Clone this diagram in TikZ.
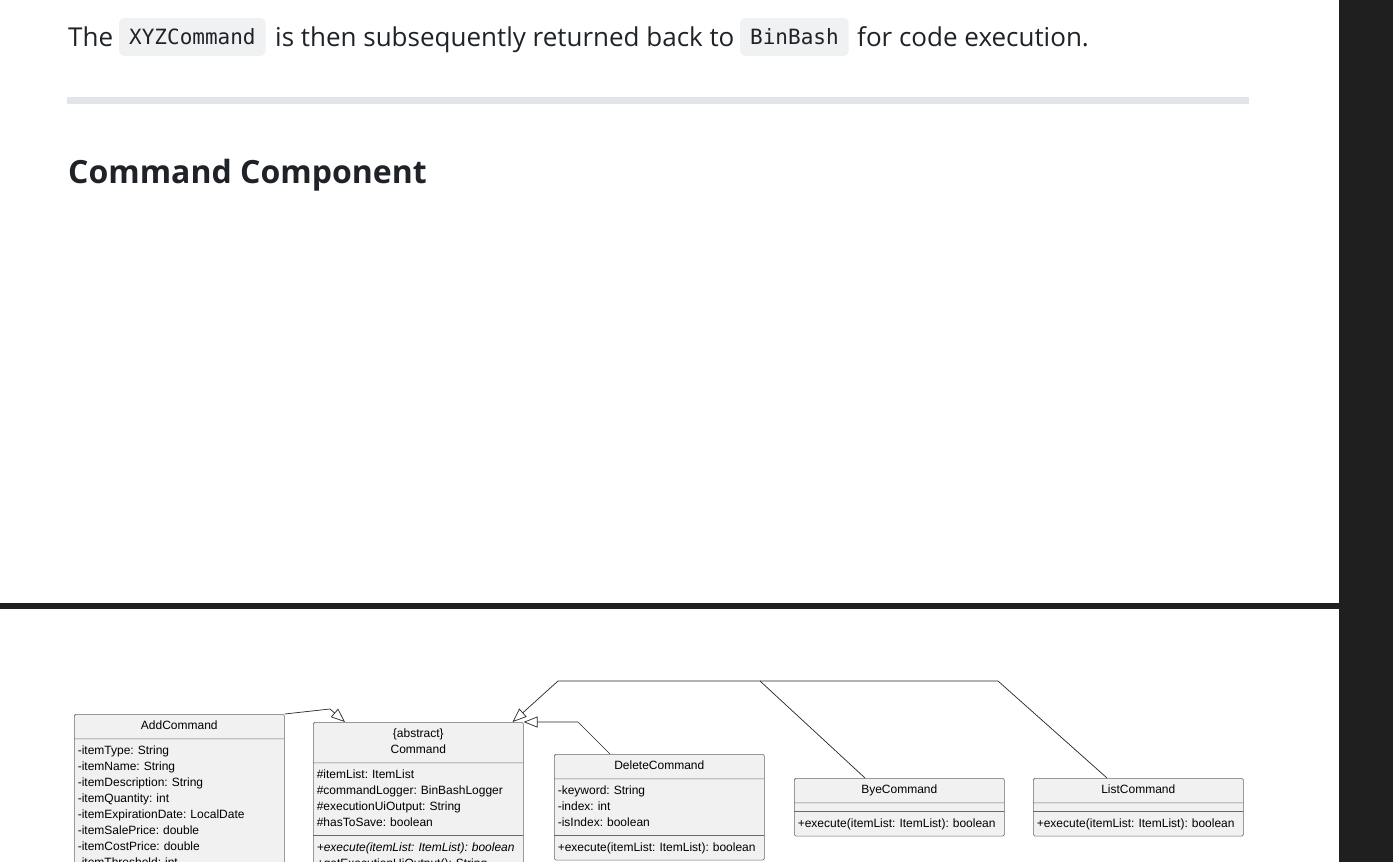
\documentclass[tikz,border=0pt]{standalone}
\usepackage{fontspec}
\setmainfont{Open Sans}
\setsansfont{Liberation Sans}
\setmonofont{DejaVu Sans Mono}
\usetikzlibrary{arrows.meta,positioning,shapes.multipart}
\frenchspacing
\definecolor{PageText}{RGB}{31,35,40}
\definecolor{CodeBg}{RGB}{239,241,243}
\definecolor{RuleGray}{RGB}{225,228,232}
\definecolor{DarkBar}{RGB}{31,31,31}
\definecolor{ClassFill}{RGB}{241,241,241}
\definecolor{ClassLine}{RGB}{105,105,105}
\tikzset{
  prose/.style={anchor=base west,inner sep=0pt,text=PageText,font=\fontsize{26}{30}\selectfont},
  codebox/.style={anchor=base west,fill=CodeBg,rounded corners=5pt,inner xsep=10pt,inner ysep=6pt,text height=21pt,text depth=5pt,text=PageText,font=\ttfamily\fontsize{21}{26}\selectfont},
  heading/.style={anchor=base west,inner sep=0pt,text=PageText,font=\bfseries\fontsize{32}{38}\selectfont},
  umlclass/.style={rectangle split,rectangle split parts=3,rectangle split empty part height=0pt,draw=ClassLine,fill=ClassFill,line width=0.6pt,rounded corners=1.5pt,text width=203pt,inner xsep=3.5pt,inner ysep=4pt,anchor=north west,font=\sffamily\fontsize{12}{16}\selectfont},
  genline/.style={-{Triangle[open,length=14pt,width=11pt]},line width=0.7pt,draw=black!85}
}

\begin{document}
\begin{tikzpicture}[x=1pt,y=-1pt]
\clip (0,0) rectangle (1393,862);
\fill[white] (0,0) rectangle (1393,862);

% page text
\node[prose] (the) at (68,46) {The};
\node[codebox] (xyz) at (119,45) {XYZCommand};
\node[prose] (mid) at (275,46) {is then subsequently returned back to};
\node[codebox] (binbash) at (740,45) {BinBash};
\node[prose] (tail) at (857,46) {for code execution.};
\fill[RuleGray] (67,97) rectangle (1249,104);
\node[heading] (title) at (68,183) {Command Component};

% window frame
\fill[DarkBar] (0,603) rectangle (1339,609);
\fill[DarkBar] (1339,0) rectangle (1393,862);

% class diagram
\node[umlclass,rectangle split parts=2] (add) at (74,714) {\centering\strut AddCommand\par
  \nodepart{two}\strut -itemType: String\\\strut -itemName: String\\\strut -itemDescription: String\\\strut -itemQuantity: int\\\strut -itemExpirationDate: LocalDate\\\strut -itemSalePrice: double\\\strut -itemCostPrice: double\\\strut -itemThreshold: int};
\node[umlclass] (cmd) at (313,722) {\centering\strut\{abstract\}\\\strut Command\par
  \nodepart{two}\strut \#itemList: ItemList\\\strut \#commandLogger: BinBashLogger\\\strut \#executionUiOutput: String\\\strut \#hasToSave: boolean
  \nodepart{three}\strut\itshape +execute(itemList: ItemList): boolean\\\strut\upshape +getExecutionUiOutput(): String};
\node[umlclass] (del) at (554,754) {\centering\strut DeleteCommand\par
  \nodepart{two}\strut -keyword: String\\\strut -index: int\\\strut -isIndex: boolean
  \nodepart{three}\strut +execute(itemList: ItemList): boolean};
\node[umlclass] (bye) at (794,778) {\centering\strut ByeCommand\par
  \nodepart{two}
  \nodepart{three}\strut +execute(itemList: ItemList): boolean};
\node[umlclass] (list) at (1033,778) {\centering\strut ListCommand\par
  \nodepart{two}
  \nodepart{three}\strut +execute(itemList: ItemList): boolean};

\coordinate (addBend) at (330,709);
\coordinate (delBend) at (578,722);
\coordinate (delJoin) at (540,722);
\coordinate (topLeft) at (558,681);
\coordinate (topRight) at (998,681);
\coordinate (byeJoin) at (760,681);

\draw[genline] (add.north east) -- (addBend) -- ([xshift=32pt]cmd.north west);
\draw[genline] ([xshift=56pt]del.north west) -- (delBend) -- (delJoin) -- (cmd.north east);
\draw[genline] ([xshift=74pt]list.north west) -- (topRight) -- (topLeft) -- ([xshift=-11pt]cmd.north east);
\draw[genline,-] ([xshift=71pt]bye.north west) -- (byeJoin);
\end{tikzpicture}
\end{document}
